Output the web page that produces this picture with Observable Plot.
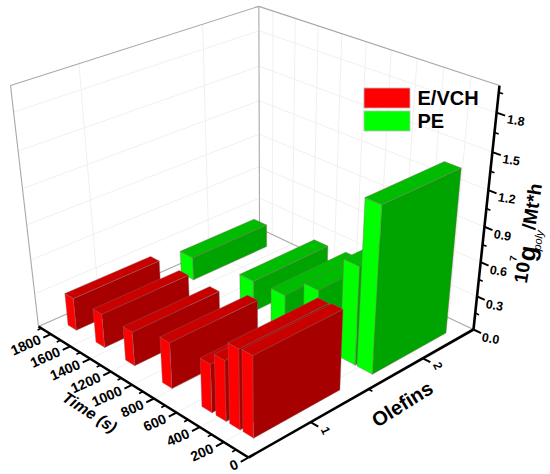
<!DOCTYPE html>
<html><head><meta charset="utf-8">
<style>html,body{margin:0;padding:0;background:#fff}svg{display:block}</style>
<script src="https://cdn.jsdelivr.net/npm/d3@7"></script>
<script src="https://cdn.jsdelivr.net/npm/@observablehq/plot@0.6"></script>
</head><body><div id="chart"></div>
<script>
// ---- data ----
const evchTime  = [155, 265, 380, 500, 850, 1195, 1485, 1770];
const evchValue = [0.69, 0.68, 0.52, 0.42, 0.40, 0.30, 0.30, 0.29];
const peTime    = [155, 295, 610, 895, 1180, 1760];
const peValue   = [1.40, 0.85, 0.49, 0.30, 0.28, 0.21];
const timeTicks = [0, 200, 400, 600, 800, 1000, 1200, 1400, 1600, 1800];
const timeMinor = [100, 300, 500, 700, 900, 1100, 1300, 1500, 1700, 1900];
const olefinTicks = [1, 2];
const olefinMinor = [1.5];
const valueTicks = [0, 0.3, 0.6, 0.9, 1.2, 1.5, 1.8];
const valueMinor = [0.15, 0.45, 0.75, 1.05, 1.35, 1.65, 1.95];

// ---- 3D axis limits and perspective camera ----
const timeMax = 1930, olefinMin = 0.5, olefinMax = 2.5, valueMax = 2;
function project(t, o, val) {
  const u = t / timeMax, v = (o - olefinMin) / (olefinMax - olefinMin), w = val / valueMax;
  const d = 1 + 0.1576 * u + 0.1441 * v - 0.1271 * w;
  return {x: (248 - 204.01 * u + 293.15 * v - 33.69 * w) / d,
          y: (457 - 79.61 * u - 80.59 * v - 289.9 * w) / d};
}
const seg = (a, b) => {
  const p = project(...a), q = project(...b);
  return {x1: p.x, y1: p.y, x2: q.x, y2: q.y};
};

// ---- bars -> polygon faces (painter's order: far to near) ----
const faces = [];
function addBar(id, t, o, val, tw, ow, c) {
  const t0 = t - tw / 2, t1 = t + tw / 2, o0 = o - ow, o1 = o + ow;
  const face = (name, fill, pts) => pts.forEach(p => faces.push({id: id + name, fill, ...project(...p)}));
  face("L", c.left, [[t0,o0,0],[t1,o0,0],[t1,o0,val],[t0,o0,val]]);
  face("F", c.front, [[t0,o0,0],[t0,o1,0],[t0,o1,val],[t0,o0,val]]);
  face("T", c.top, [[t0,o0,val],[t0,o1,val],[t1,o1,val],[t1,o0,val]]);
}
const red = {left: "#ff0000", front: "#a60000", top: "#c80000"};
const green = {left: "#00ff00", front: "#00a400", top: "#00bc00"};
d3.range(peTime.length).reverse().forEach(i => addBar("pe" + i, peTime[i], 1.99, peValue[i], 125, 0.35, green));
d3.range(evchTime.length).reverse().forEach(i => addBar("ev" + i, evchTime[i], 1.01, evchValue[i], 87, 0.36, red));

// ---- grid + frame ----
const grid = [
  ...valueTicks.slice(1).flatMap(z => [seg([timeMax,olefinMin,z],[timeMax,olefinMax,z]), seg([timeMax,olefinMax,z],[0,olefinMax,z])]),
  ...olefinTicks.flatMap(o => [seg([timeMax,o,0],[timeMax,o,valueMax]), seg([0,o,0],[timeMax,o,0])]),
  ...timeTicks.slice(1).flatMap(t => [seg([t,olefinMax,0],[t,olefinMax,valueMax]), seg([t,olefinMin,0],[t,olefinMax,0])])
];
const frame = [
  seg([timeMax,olefinMin,0],[timeMax,olefinMin,valueMax]),
  seg([timeMax,olefinMin,valueMax],[timeMax,olefinMax,valueMax]),
  seg([timeMax,olefinMax,valueMax],[0,olefinMax,valueMax]),
  seg([timeMax,olefinMax,0],[timeMax,olefinMax,valueMax]),
  seg([timeMax,olefinMin,0],[timeMax,olefinMax,0]),
  seg([timeMax,olefinMax,0],[0,olefinMax,0])
];
const axes = [
  seg([timeMax,olefinMin,0],[0,olefinMin,0]),
  seg([0,olefinMin,0],[0,olefinMax,0]),
  seg([0,olefinMax,0],[0,olefinMax,valueMax])
];
const tickO = 0.06, tickT = 60;
const ticks = [
  ...timeTicks.map(t => seg([t,olefinMin,0],[t,olefinMin - tickO,0])),
  ...olefinTicks.map(o => seg([0,o,0],[-tickT,o,0])),
  ...valueTicks.map(z => seg([0,olefinMax,z],[-tickT,olefinMax,z]))
];
const minor = [
  ...timeMinor.map(t => seg([t,olefinMin,0],[t,olefinMin - tickO / 2,0])),
  ...olefinMinor.map(o => seg([0,o,0],[-tickT / 2,o,0])),
  ...valueMinor.map(z => seg([0,olefinMax,z],[-tickT / 2,olefinMax,z]))
];

// ---- text ----
const font = "Liberation Sans, Arial, sans-serif";
const timeLabels = timeTicks.map(t => ({...project(t, olefinMin - 0.085, 0), s: String(t)}));
const olefinLabels = olefinTicks.map(o => ({...project(-116, o, 0), s: String(o)}));
const valueLabels = valueTicks.map(z => ({...project(-135, olefinMax, z - 0.01), s: z.toFixed(1)}));

const titleBits = [
  {x: 522, y: 272, s: "10", size: 19, weight: "bold", style: "normal"},
  {x: 513, y: 258, s: "7", size: 10, weight: "bold", style: "normal"},
  {x: 527, y: 253, s: "g", size: 25, weight: "bold", style: "normal"},
  {x: 538, y: 240, s: "poly", size: 11, weight: "normal", style: "italic"},
  {x: 532, y: 206, s: "/Mt*h", size: 19, weight: "bold", style: "normal"}
];

const legend = [
  {label: "E/VCH", fill: "#ff0000", y1: 88, y2: 108},
  {label: "PE", fill: "#00ff00", y1: 111, y2: 131}
];

const plot = Plot.plot({
  width: 550, height: 474, margin: 0,
  x: {domain: [0, 550], range: [0, 550], axis: null},
  y: {domain: [0, 474], range: [0, 474], axis: null},
  style: {background: "#fff", fontFamily: font},
  marks: [
    Plot.link(grid, {x1: "x1", y1: "y1", x2: "x2", y2: "y2", stroke: "#eeeeee", strokeWidth: 0.9}),
    Plot.link(frame, {x1: "x1", y1: "y1", x2: "x2", y2: "y2", stroke: "#a8a8a8", strokeWidth: 1.1}),
    Plot.link(minor, {x1: "x1", y1: "y1", x2: "x2", y2: "y2", stroke: "#000", strokeWidth: 1.6}),
    Plot.link(ticks, {x1: "x1", y1: "y1", x2: "x2", y2: "y2", stroke: "#000", strokeWidth: 2}),
    Plot.link(axes, {x1: "x1", y1: "y1", x2: "x2", y2: "y2", stroke: "#000", strokeWidth: 2.6}),
    Plot.line(faces, {x: "x", y: "y", z: "id", fill: "fill", stroke: "#8a6a6a", strokeWidth: 0.5, strokeOpacity: 0.8, curve: "linear-closed"}),
    Plot.rect(legend, {x1: 364, x2: 410, y1: "y1", y2: "y2", fill: "fill", stroke: "#bbb", strokeWidth: 0.8}),
    Plot.text(legend, {x: 417, y: d => (d.y1 + d.y2) / 2, text: "label", textAnchor: "start", fontSize: 20, fontWeight: "bold", fill: "#000"}),
    Plot.text(timeLabels, {x: "x", y: "y", text: "s", rotate: -24, textAnchor: "end", fontSize: 14, fontWeight: "bold", fill: "#000"}),
    Plot.text(olefinLabels, {x: "x", y: "y", text: "s", rotate: 65, fontSize: 12, fontWeight: "bold", fill: "#000"}),
    Plot.text(valueLabels, {x: "x", y: "y", text: "s", rotate: 9, fontSize: 12.5, fontWeight: "bold", fill: "#000"}),
    Plot.text(["Time (s)"], {x: 89, y: 412, text: d => d, rotate: 33, fontSize: 16, fontWeight: "bold", fontStyle: "italic", fill: "#000"}),
    Plot.text(["Olefins"], {x: 402, y: 404, text: d => d, rotate: -32, fontSize: 20, fontWeight: "bold", fill: "#000"}),
    ...titleBits.map(b => Plot.text([b], {x: "x", y: "y", text: "s", rotate: -81, fontSize: b.size, fontStyle: b.style, fontWeight: b.weight, fill: "#000"}))
  ]
});
document.getElementById("chart").appendChild(plot);
</script></body></html>
